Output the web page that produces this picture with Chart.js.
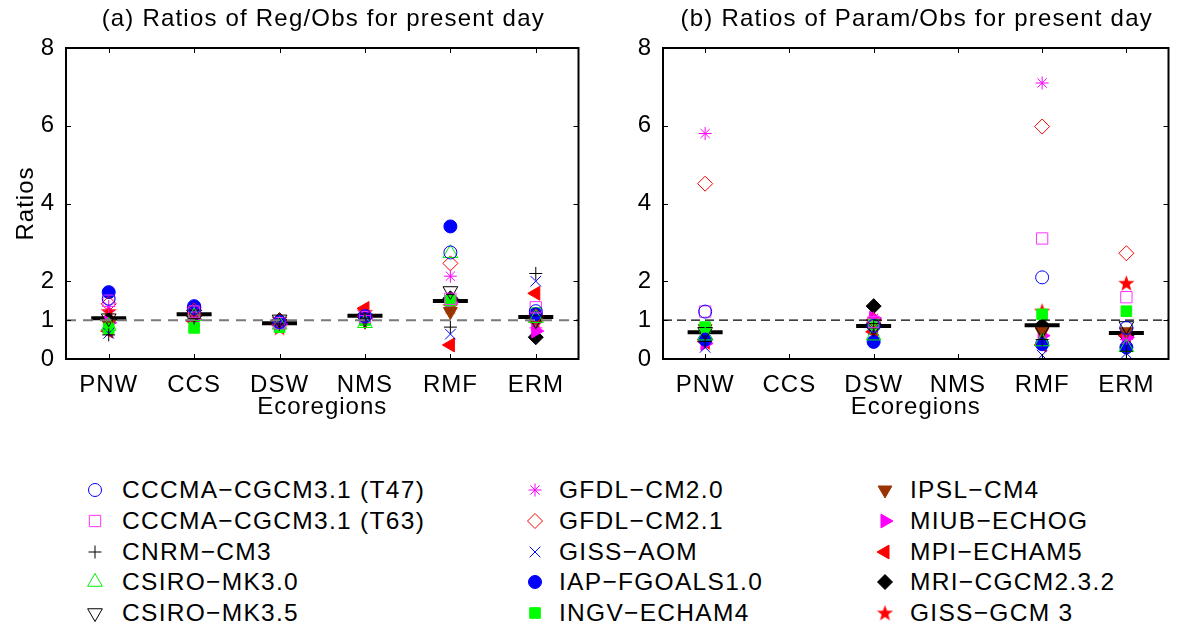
<!DOCTYPE html>
<html>
<head>
<meta charset="utf-8">
<script src="https://cdn.jsdelivr.net/npm/chart.js"></script>
<style>
  html, body { margin:0; padding:0; background:#fff; }
  #wrap { position:relative; width:1190px; height:629px; overflow:hidden; background:#fff; }
  canvas.chart { position:absolute; top:0; }
  .leg { position:absolute; height:28px; line-height:28px; font-family:"Liberation Sans", Arial, sans-serif;
         font-size:24.5px; letter-spacing:1.3px; color:#000; white-space:nowrap; }
  canvas.mk { position:absolute; }
</style>
</head>
<body>
<div id="wrap">
  <canvas id="cA" class="chart" width="600" height="430" style="left:0px;width:600px;height:430px"></canvas>
  <canvas id="cB" class="chart" width="590" height="430" style="left:600px;width:590px;height:430px"></canvas>
  <div id="legend"></div>
</div>
<script>
// ---------------- data ----------------
const regions = ['PNW', 'CCS', 'DSW', 'NMS', 'RMF', 'ERM'];
const models = [
  'CCCMA\u2212CGCM3.1 (T47)', 'CCCMA\u2212CGCM3.1 (T63)', 'CNRM\u2212CM3', 'CSIRO\u2212MK3.0', 'CSIRO\u2212MK3.5',
  'GFDL\u2212CM2.0', 'GFDL\u2212CM2.1', 'GISS\u2212AOM', 'IAP\u2212FGOALS1.0', 'INGV\u2212ECHAM4',
  'IPSL\u2212CM4', 'MIUB\u2212ECHOG', 'MPI\u2212ECHAM5', 'MRI\u2212CGCM2.3.2', 'GISS\u2212GCM 3'
];
const yTicks = [0, 1, 2, 4, 6, 8];
const refRatio = 1;

// (a) Reg/Obs ratios, one array per ecoregion, values in model order
const regPNW = [1.55, 1.50, 0.62, 0.85, 1.05, 1.35, 1.42, 0.66, 1.72, 0.78, 0.90, 0.93, 0.72, 1.00, 1.22];
const regCCS = [1.32, 1.22, 1.05, 1.10, 1.15, 1.20, 1.25, 1.10, 1.36, 0.80, 1.05, 1.02, 0.97, 1.10, 1.28];
const regDSW = [0.95, 0.92, 0.90, 0.88, 1.02, 0.90, 0.98, 0.88, 0.95, 0.82, 0.97, 0.90, 0.88, 1.00, 0.80];
const regNMS = [1.10, 1.08, 1.05, 0.92, 1.05, 1.12, 1.10, 1.05, 1.10, 1.00, 0.97, 1.05, 1.30, 1.08, 1.20];
const regRMF = [2.74, 1.55, 0.82, 2.72, 1.75, 2.13, 2.46, 0.64, 3.41, 1.50, 1.22, 1.45, 0.36, 1.56, 1.35];
const regERM = [1.23, 1.33, 2.20, 1.05, 1.00, 0.80, 1.10, 2.00, 1.15, 1.18, 0.95, 0.72, 1.69, 0.56, 0.92];
const regMedian = [1.05, 1.15, 0.92, 1.11, 1.49, 1.08];

// (b) Param/Obs ratios (no values for CCS and NMS)
const parPNW = [1.22, 1.22, 0.45, 0.60, 0.70, 5.80, 4.51, 0.30, 0.50, 0.82, 0.78, 0.40, 0.45, 0.51, 0.42];
const parCCS = [null, null, null, null, null, null, null, null, null, null, null, null, null, null, null];
const parDSW = [0.85, 0.95, 0.80, 0.60, 0.80, 1.05, 1.00, 0.75, 0.44, 0.90, 0.85, 1.05, 0.70, 1.36, 0.95];
const parNMS = [null, null, null, null, null, null, null, null, null, null, null, null, null, null, null];
const parRMF = [2.10, 3.10, 0.50, 0.45, 0.75, 7.10, 5.98, 0.10, 0.38, 1.15, 0.70, 0.60, 0.36, 0.87, 1.23];
const parERM = [0.80, 1.59, 0.20, 0.30, 0.85, 0.50, 2.72, 0.15, 0.30, 1.23, 0.70, 0.55, 0.60, 0.60, 1.95];
const parMedian = [0.69, null, 0.85, null, 0.87, 0.67];

// ---------------- styles ----------------
const FONT = '"Liberation Sans", Arial, sans-serif';
Chart.defaults.font.family = FONT;
Chart.defaults.color = '#000';

function makeStar(color, rOut, rIn) {
  const c = document.createElement('canvas');
  const s = Math.ceil(rOut * 2) + 2;
  c.width = s; c.height = s;
  const g = c.getContext('2d');
  g.fillStyle = color;
  g.beginPath();
  for (let i = 0; i < 10; i++) {
    const r = i % 2 === 0 ? rOut : rIn;
    const a = -Math.PI / 2 + i * Math.PI / 5;
    const px = s / 2 + r * Math.cos(a), py = s / 2 + 0.5 + r * Math.sin(a);
    if (i === 0) g.moveTo(px, py); else g.lineTo(px, py);
  }
  g.closePath();
  g.fill();
  return c;
}
const starImg = makeStar('#ff0000', 8.5, 3.5);

const NONE = 'rgba(0,0,0,0)';
const modelStyles = [
  { ps: 'circle',   r: 6.5, rot: 0,   c: '#0000ff', f: false },
  { ps: 'rect',     r: 8,   rot: 0,   c: '#ff33ff', f: false },
  { ps: 'cross',    r: 6.5, rot: 0,   c: '#000000', f: false },
  { ps: 'triangle', r: 8.5, rot: 0,   c: '#00ee00', f: false },
  { ps: 'triangle', r: 8.5, rot: 180, c: '#000000', f: false },
  { ps: 'star',     r: 6.5, rot: 0,   c: '#ff00ff', f: false },
  { ps: 'rectRot',  r: 7.5, rot: 0,   c: '#ff0000', f: false },
  { ps: 'crossRot', r: 7.5, rot: 0,   c: '#0000ff', f: false },
  { ps: 'circle',   r: 6.5, rot: 0,   c: '#0000ff', f: true },
  { ps: 'rect',     r: 7.5, rot: 0,   c: '#00ff00', f: true },
  { ps: 'triangle', r: 8,   rot: 180, c: '#993300', f: true },
  { ps: 'triangle', r: 8,   rot: 90,  c: '#ff00ff', f: true },
  { ps: 'triangle', r: 8,   rot: -90, c: '#ff0000', f: true },
  { ps: 'rectRot',  r: 7.5, rot: 0,   c: '#000000', f: true },
  { ps: starImg,    r: 8,   rot: 0,   c: '#ff0000', f: true }
];

// ---------------- plugins ----------------
const spacingPlugin = {
  id: 'spacing',
  beforeLayout(chart) { chart.ctx.letterSpacing = '1px'; },
  beforeDraw(chart) { chart.ctx.letterSpacing = '1px'; }
};
const framePlugin = {
  id: 'frame',
  afterDatasetsDraw(chart) {
    const { ctx, chartArea: a, scales } = chart;
    ctx.save();
    ctx.strokeStyle = '#000';
    ctx.lineWidth = 1;
    const tl = 5;
    ctx.beginPath();
    scales.x.ticks.forEach(t => {
      const px = Math.round(scales.x.getPixelForValue(t.value)) + 0.5;
      ctx.moveTo(px, a.bottom); ctx.lineTo(px, a.bottom - tl);
      ctx.moveTo(px, a.top); ctx.lineTo(px, a.top + tl);
    });
    scales.y.ticks.forEach(t => {
      const py = Math.round(scales.y.getPixelForValue(t.value)) + 0.5;
      ctx.moveTo(a.left, py); ctx.lineTo(a.left + tl, py);
      ctx.moveTo(a.right, py); ctx.lineTo(a.right - tl, py);
    });
    ctx.stroke();
    ctx.lineWidth = 2;
    ctx.strokeRect(a.left, a.top, a.right - a.left, a.bottom - a.top);
    // panel title centred over the plot area
    const t = chart.options.plugins.panelTitle;
    ctx.letterSpacing = '1.2px';
    ctx.fillStyle = '#000';
    ctx.font = '24px ' + FONT;
    ctx.textAlign = 'center';
    ctx.textBaseline = 'middle';
    ctx.fillText(t.text, (a.left + a.right) / 2 + 1, 19);
    ctx.restore();
  }
};

// ---------------- chart builder ----------------
function buildChart(canvasId, titleText, byRegion, medians, cfg) {
  const datasets = [];
  datasets.push({
    label: 'ref',
    data: [{ x: 0.5, y: refRatio }, { x: regions.length + 0.5, y: refRatio }],
    showLine: true, pointRadius: 0, borderColor: cfg.refColor, borderWidth: cfg.refWidth,
    borderDash: cfg.refDash, fill: false
  });
  models.forEach((m, k) => {
    const st = modelStyles[k];
    const pts = [];
    regions.forEach((r, i) => {
      const v = byRegion[i][k];
      if (v !== null && v !== undefined) pts.push({ x: i + 1, y: v });
    });
    datasets.push({
      label: m, data: pts, pointStyle: st.ps, pointRadius: st.r, pointRotation: st.rot,
      borderColor: st.c, backgroundColor: st.f ? st.c : NONE, pointBorderWidth: 1,
      showLine: false
    });
  });
  const medPts = [];
  medians.forEach((v, i) => { if (v !== null) medPts.push({ x: i + 1, y: v }); });
  datasets.push({
    label: 'median', data: medPts, pointStyle: 'line', pointRadius: 17.5,
    borderColor: '#000', backgroundColor: '#000', pointBorderWidth: 4, showLine: false
  });

  return new Chart(document.getElementById(canvasId), {
    type: 'scatter',
    data: { datasets },
    options: {
      responsive: false, animation: false, devicePixelRatio: 1,
      layout: { padding: { left: 0, right: cfg.padRight, top: 48, bottom: 0 } },
      plugins: {
        legend: { display: false }, tooltip: { enabled: false },
        title: { display: false },
        panelTitle: { text: titleText }
      },
      elements: { point: { hitRadius: 0, hoverRadius: 0 } },
      scales: {
        x: {
          type: 'linear', min: 0.5, max: regions.length + 0.5,
          grid: { display: false }, border: { display: false },
          afterBuildTicks: s => { s.ticks = regions.map((r, i) => ({ value: i + 1 })); },
          afterFit: s => { s.height = 71; },
          ticks: {
            autoSkip: false, maxRotation: 0, padding: 4, color: '#000',
            font: { size: 24, family: FONT },
            callback: v => regions[Math.round(v) - 1] || ''
          },
          title: { display: true, text: 'Ecoregions', color: '#000', font: { size: 24, family: FONT },
                   padding: { top: 0, bottom: 8 } }
        },
        y: {
          type: 'linear', min: 0, max: 8,
          grid: { display: false }, border: { display: false },
          afterBuildTicks: s => { s.ticks = yTicks.map(v => ({ value: v })); },
          afterFit: s => { s.width = cfg.yWidth; },
          ticks: { padding: 3, color: '#000', font: { size: 24, family: FONT }, callback: v => String(v) },
          title: { display: cfg.yTitle, text: 'Ratios', color: '#000', font: { size: 24, family: FONT },
                   padding: { top: 12, bottom: 0 } }
        }
      }
    },
    plugins: [spacingPlugin, framePlugin]
  });
}

buildChart('cA', '(a) Ratios of Reg/Obs for present day',
  [regPNW, regCCS, regDSW, regNMS, regRMF, regERM], regMedian,
  { refColor: '#7a7a7a', refWidth: 2, refDash: [10, 7], padRight: 8, yWidth: 66, yTitle: true });
buildChart('cB', '(b) Ratios of Param/Obs for present day',
  [parPNW, parCCS, parDSW, parNMS, parRMF, parERM], parMedian,
  { refColor: '#000000', refWidth: 1.2, refDash: [9, 5], padRight: 1, yWidth: 63, yTitle: false });

// ---------------- legend ----------------
const legRows = [490, 520.75, 551.5, 582.25, 613];
const legCols = [{ m: 95, t: 122 }, { m: 535, t: 559 }, { m: 885, t: 910 }];
const legendEl = document.getElementById('legend');
const drawPt = (Chart.helpers && Chart.helpers.drawPoint) ? Chart.helpers.drawPoint : null;
models.forEach((name, k) => {
  const col = legCols[Math.floor(k / 5)];
  const rowY = legRows[k % 5];
  const st = modelStyles[k];
  const mk = document.createElement('canvas');
  mk.className = 'mk';
  mk.width = 24; mk.height = 24;
  mk.style.left = (col.m - 12) + 'px';
  mk.style.top = (rowY - 12) + 'px';
  const g = mk.getContext('2d');
  g.strokeStyle = st.c; g.fillStyle = st.f ? st.c : NONE; g.lineWidth = 1;
  if (drawPt) {
    drawPt(g, { pointStyle: st.ps, radius: st.r, rotation: st.rot, borderWidth: 1 }, 12, 12);
  }
  legendEl.appendChild(mk);
  const tx = document.createElement('div');
  tx.className = 'leg';
  tx.style.left = col.t + 'px';
  tx.style.top = (rowY - 14) + 'px';
  tx.textContent = name;
  legendEl.appendChild(tx);
});
</script>
</body>
</html>
